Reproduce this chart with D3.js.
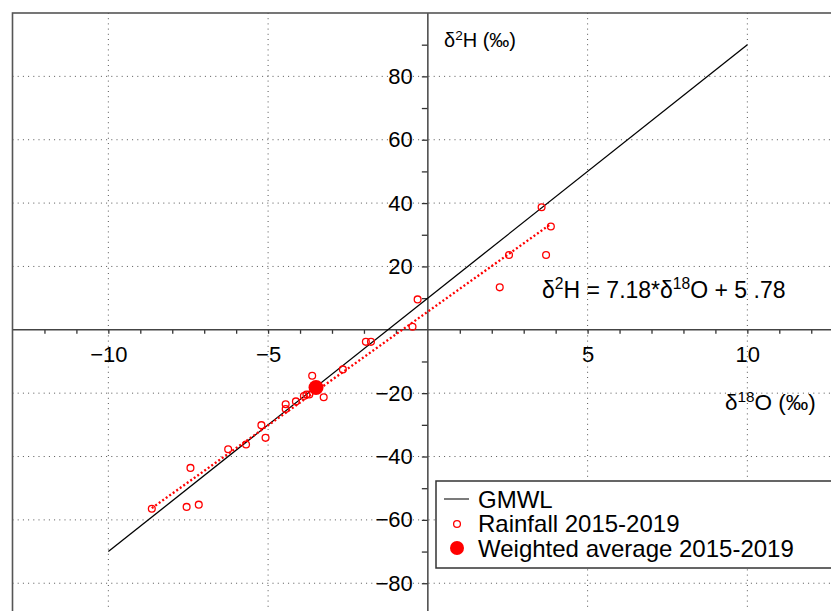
<!DOCTYPE html>
<html>
<head>
<meta charset="utf-8">
<script src="https://cdn.jsdelivr.net/npm/d3@7"></script>
<style>
  body { margin: 0; background: #fff; }
  text { font-family: Arial, "Liberation Sans", Helvetica, sans-serif; }
</style>
</head>
<body>
<svg id="chart"></svg>
<script>
// rainfall samples 2015-2019 (d18O, d2H)
const rainO = [-8.64, -7.55, -7.17, -7.43, -6.25, -5.69, -5.21, -5.08, -4.45, -4.45,
               -4.13, -3.88, -3.80, -3.71, -3.62, -3.26, -2.66, -1.94, -1.78, -0.48,
               -0.32, 2.25, 2.54, 3.70, 3.56, 3.85];
const rainH = [-56.5, -55.9, -55.2, -43.6, -37.7, -36.2, -30.1, -34.1, -23.5, -25.0,
               -22.6, -20.9, -20.4, -20.4, -14.5, -21.3, -12.5, -3.8, -3.8, 0.95,
               9.6, 13.4, 23.6, 23.6, 38.7, 32.6];
const avgO = [-3.5];
const avgH = [-18.2];
// global meteoric water line end points
const gmwlO = [-10, 10];
const gmwlH = [-70, 90];
// local regression line end points
const fitO = [-8.64, 3.85];
const fitH = [-56.3, 33.4];
const xLabels = [-10, -5, 5, 10];
const yLabels = [-80, -60, -40, -20, 20, 40, 60, 80];
const xTicks = d3.range(-12, 13).filter(d => d !== 0);
const yTicks = d3.range(-90, 100, 10).filter(d => d !== 0);
const legendLabels = ["GMWL", "Rainfall 2015-2019", "Weighted average 2015-2019"];

const width = 831, height = 611;
const svg = d3.select("#chart").attr("width", width).attr("height", height);

const x = d3.scaleLinear().domain([-13, 13]).range([12.5, 843.2]);
const y = d3.scaleLinear().domain([100, -100]).range([13, 646.6]);

// grid
const grid = svg.append("g").attr("stroke", "#555").attr("stroke-width", 1)
    .attr("stroke-dasharray", "1,4.2");
grid.selectAll(".gx").data(xLabels).enter().append("line")
    .attr("x1", d => x(d)).attr("x2", d => x(d))
    .attr("y1", y(100)).attr("y2", y(-100));
grid.selectAll(".gy").data(yLabels).enter().append("line")
    .attr("x1", x(-13)).attr("x2", x(13))
    .attr("y1", d => y(d)).attr("y2", d => y(d));

// axes through origin
const xAxis = svg.append("g").attr("transform", "translate(0," + y(0) + ")")
    .call(d3.axisBottom(x).tickValues(xTicks).tickSize(4).tickPadding(13)
      .tickFormat(d => xLabels.includes(d) ? d3.format("d")(d) : ""));
const yAxis = svg.append("g").attr("transform", "translate(" + x(0) + ",0)")
    .call(d3.axisLeft(y).tickValues(yTicks).tickSize(6).tickPadding(9)
      .tickFormat(d => yLabels.includes(d) ? d3.format("d")(d) : ""));
[xAxis, yAxis].forEach(a => {
  a.select(".domain").remove();
  a.selectAll("line").attr("stroke", "#333").attr("stroke-width", 1.3);
  a.selectAll("text").attr("font-size", 22).attr("fill", "#000")
    .style("font-family", "Arial, 'Liberation Sans', sans-serif");
});
svg.append("line").attr("x1", x(-13)).attr("x2", x(13))
    .attr("y1", y(0)).attr("y2", y(0)).attr("stroke", "#444").attr("stroke-width", 1.5);
svg.append("line").attr("x1", x(0)).attr("x2", x(0))
    .attr("y1", y(100)).attr("y2", y(-100)).attr("stroke", "#444").attr("stroke-width", 1.5);

// frame
svg.append("rect").attr("x", x(-13)).attr("y", y(100))
    .attr("width", x(13) - x(-13)).attr("height", y(-100) - y(100))
    .attr("fill", "none").attr("stroke", "#555").attr("stroke-width", 1.6);

// GMWL
const line = d3.line().x(d => x(d[0])).y(d => y(d[1]));
svg.append("path").datum(d3.zip(gmwlO, gmwlH)).attr("d", line)
    .attr("fill", "none").attr("stroke", "#000").attr("stroke-width", 1.3);

// regression
svg.append("path").datum(d3.zip(fitO, fitH)).attr("d", line)
    .attr("fill", "none").attr("stroke", "#ff0000").attr("stroke-width", 2.3)
    .attr("stroke-dasharray", "2,2.3");

// rainfall points
svg.selectAll(".rain").data(d3.zip(rainO, rainH)).enter().append("circle")
    .attr("class", "rain")
    .attr("cx", d => x(d[0])).attr("cy", d => y(d[1])).attr("r", 3.4)
    .attr("fill", "none").attr("stroke", "#ff0000").attr("stroke-width", 1.3);

// weighted average
svg.selectAll(".avg").data(d3.zip(avgO, avgH)).enter().append("circle")
    .attr("class", "avg")
    .attr("cx", d => x(d[0])).attr("cy", d => y(d[1])).attr("r", 7.5)
    .attr("fill", "#ff0000");

// axis titles
function sup(t, parts) {
  parts.forEach(p => {
    const s = t.append("tspan").text(p[0]);
    if (p[1]) s.attr("font-size", "0.68em").attr("dy", "-0.55em");
    if (p[2]) s.attr("dy", "0.37em");
  });
}
const yTitle = svg.append("text").attr("x", 444).attr("y", 47).attr("font-size", 20);
sup(yTitle, [["δ"], ["2", true], ["H (‰)", false, true]]);
const xTitle = svg.append("text").attr("x", 725).attr("y", 410).attr("font-size", 22.5);
sup(xTitle, [["δ"], ["18", true], ["O (‰)", false, true]]);
const eq = svg.append("text").attr("x", 542).attr("y", 298).attr("font-size", 23);
sup(eq, [["δ"], ["2", true], ["H = 7.18*δ", false, true], ["18", true], ["O + 5 .78", false, true]]);

// legend
const lg = svg.append("g").attr("transform", "translate(436,481)");
lg.append("rect").attr("width", 420).attr("height", 87)
    .attr("fill", "#fff").attr("stroke", "#333").attr("stroke-width", 1.5);
lg.append("line").attr("x1", 8).attr("x2", 33).attr("y1", 18).attr("y2", 18)
    .attr("stroke", "#333").attr("stroke-width", 1.3);
lg.append("circle").attr("cx", 21).attr("cy", 43).attr("r", 3.4)
    .attr("fill", "none").attr("stroke", "#ff0000").attr("stroke-width", 1.3);
lg.append("circle").attr("cx", 21).attr("cy", 67).attr("r", 7)
    .attr("fill", "#ff0000");
lg.selectAll(".lt").data(legendLabels).enter().append("text")
    .attr("x", 42).attr("y", (d, i) => 26.5 + i * 24.5)
    .attr("font-size", 24).text(d => d);
</script>
</body>
</html>
